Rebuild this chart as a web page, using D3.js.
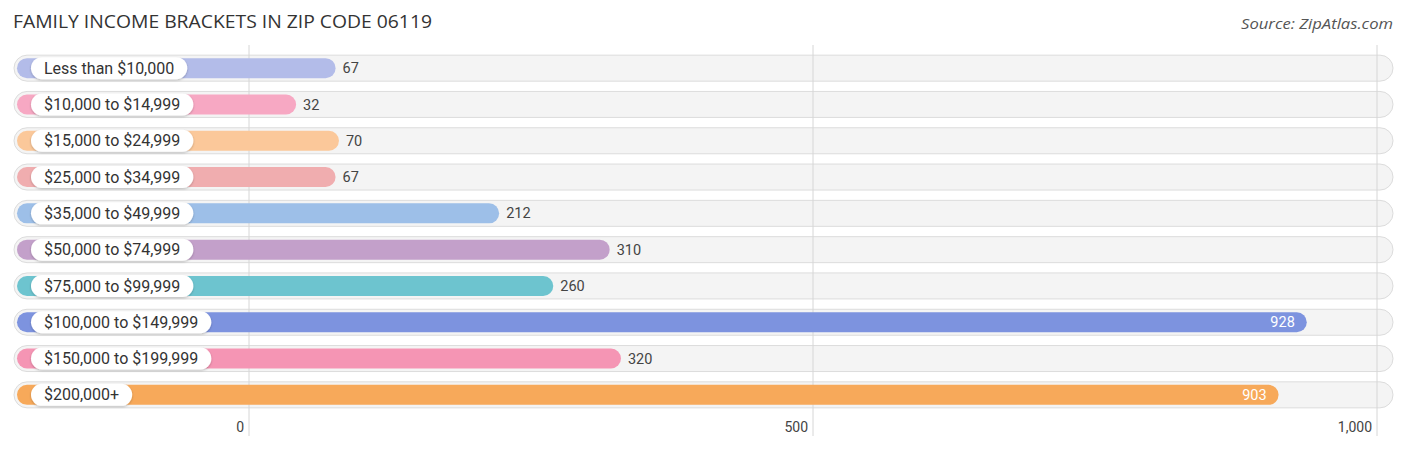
<!DOCTYPE html>
<html lang="en">
<head>
<meta charset="UTF-8">
<title>Family Income Brackets in Zip Code 06119</title>
<script src="https://d3js.org/d3.v7.min.js"></script>
<style>
    body { margin: 0; background: #fff; }
    svg { display: block; font-family: Roboto, "Open Sans", sans-serif; }
</style>
</head>
<body>
<div id="chart"></div>
<script>
    // Data
    const categories = [
        "Less than $10,000", "$10,000 to $14,999", "$15,000 to $24,999",
        "$25,000 to $34,999", "$35,000 to $49,999", "$50,000 to $74,999",
        "$75,000 to $99,999", "$100,000 to $149,999", "$150,000 to $199,999",
        "$200,000+"
    ];
    const values = [67, 32, 70, 67, 212, 310, 260, 928, 320, 903];
    const colors = ["#b3bce9", "#f7a8c3", "#fbc89a", "#f0adaf", "#9dbfe8",
                    "#c3a0ca", "#6dc4cf", "#7d93df", "#f595b4", "#f7a95a"];
    const ticks = [0, 500, 1000];

    const width = 1406, height = 450;

    const svg = d3.select("#chart").append("svg")
        .attr("width", width)
        .attr("height", height);

    const defs = svg.append("defs");
    const sh = defs.append("filter").attr("id", "shadow")
        .attr("x", "-10%").attr("y", "-40%").attr("width", "120%").attr("height", "180%");
    sh.append("feDropShadow").attr("dx", 0).attr("dy", 1).attr("stdDeviation", 1.2)
        .attr("flood-color", "#000").attr("flood-opacity", 0.25);

    // scales
    const x = d3.scaleLinear().domain([0, 1000]).range([249, 1377]);
    const y = d3.scaleBand().domain(categories).range([50, 413]);
    const rowC = d => y(d) + y.bandwidth() / 2;

    // title and source
    svg.append("text")
        .attr("x", 13).attr("y", 28)
        .attr("font-family", "'Open Sans', sans-serif")
        .attr("font-size", 18).attr("fill", "#333")
        .attr("textLength", 419).attr("lengthAdjust", "spacingAndGlyphs")
        .text("FAMILY INCOME BRACKETS IN ZIP CODE 06119");
    svg.append("text")
        .attr("x", 1393).attr("y", 29)
        .attr("text-anchor", "end")
        .attr("font-family", "'Open Sans', sans-serif")
        .attr("font-size", 15).attr("font-style", "italic").attr("fill", "#555")
        .attr("textLength", 152).attr("lengthAdjust", "spacingAndGlyphs")
        .text("Source: ZipAtlas.com");

    // background pills
    const bgH = 26;
    svg.append("g").selectAll("rect")
        .data(categories)
        .join("rect")
        .attr("x", 14).attr("y", d => rowC(d) - bgH / 2)
        .attr("width", 1379).attr("height", bgH)
        .attr("rx", bgH / 2)
        .attr("fill", "#f4f4f4")
        .attr("stroke", "#dcdcdc").attr("stroke-width", 1);

    // gridlines
    svg.append("g").selectAll("line")
        .data(ticks)
        .join("line")
        .attr("x1", d => x(d)).attr("x2", d => x(d))
        .attr("y1", 45).attr("y2", 436)
        .attr("stroke", "#d6d6d6").attr("stroke-width", 1);

    // bars
    const barH = 20, cap = 11;
    svg.append("g").selectAll("rect")
        .data(categories)
        .join("rect")
        .attr("x", 17)
        .attr("y", d => rowC(d) - barH / 2)
        .attr("width", (d, i) => x(values[i]) + cap - 17)
        .attr("height", barH)
        .attr("rx", barH / 2)
        .attr("fill", (d, i) => colors[i]);

    // label pills
    const lab = svg.append("g");
    categories.forEach((c, i) => {
        const g = lab.append("g");
        const t = g.append("text")
            .attr("x", 44).attr("y", rowC(c))
            .attr("dy", "0.35em")
            .attr("font-size", 16).attr("fill", "#333")
            .text(c);
        const w = t.node().getComputedTextLength();
        g.insert("rect", "text")
            .attr("x", 31).attr("y", rowC(c) - 11)
            .attr("width", w + 26).attr("height", 22)
            .attr("rx", 11)
            .attr("fill", "#fff")
            .attr("filter", "url(#shadow)");
    });

    // value labels
    svg.append("g").selectAll("text")
        .data(categories)
        .join("text")
        .attr("y", d => rowC(d))
        .attr("dy", "0.35em")
        .attr("font-size", 14.5)
        .each(function (d, i) {
            const end = x(values[i]) + cap;
            const inside = values[i] > 800;
            d3.select(this)
                .attr("x", inside ? end - 12 : end + 7)
                .attr("text-anchor", inside ? "end" : "start")
                .attr("fill", inside ? "#fff" : "#444")
                .text(values[i]);
        });

    // axis tick labels
    svg.append("g").selectAll("text")
        .data(ticks)
        .join("text")
        .attr("x", d => x(d) - 5)
        .attr("y", 432)
        .attr("text-anchor", "end")
        .attr("font-size", 14).attr("fill", "#444")
        .text(d => d3.format(",")(d));
</script>
</body>
</html>
